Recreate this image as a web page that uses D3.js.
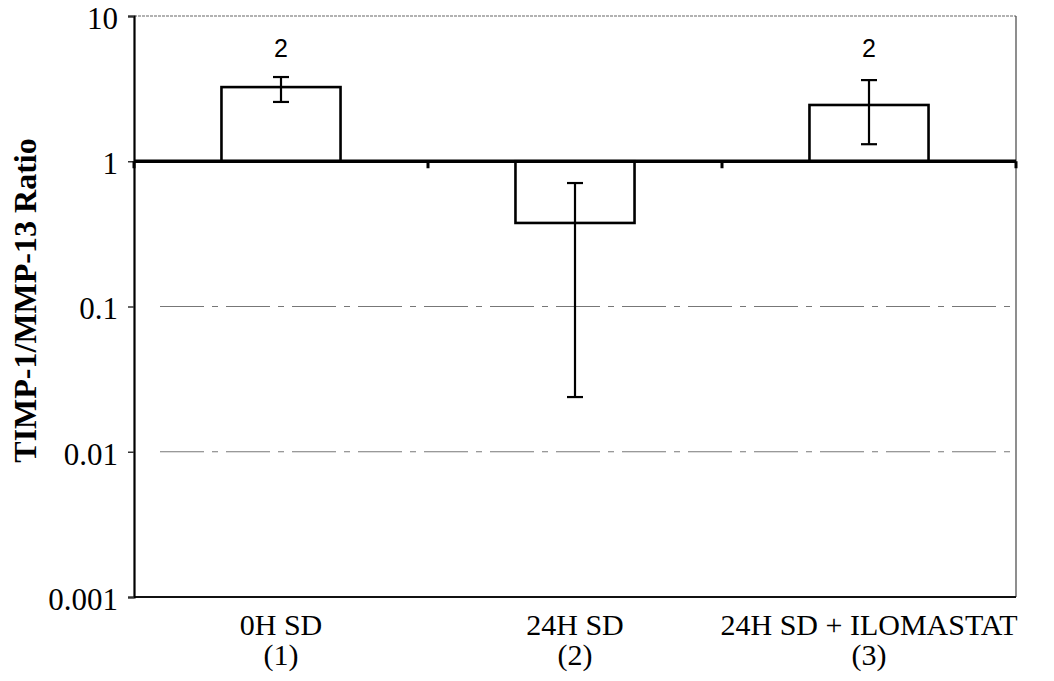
<!DOCTYPE html>
<html>
<head>
<meta charset="utf-8">
<script src="https://cdn.jsdelivr.net/npm/d3@7"></script>
<style>
  body { margin: 0; background: #fff; }
  svg { display: block; }
</style>
</head>
<body>
<div id="chart"></div>
<script>
// values (log axis, bars hang from 1)
const categories = ["0H SD", "24H SD", "24H SD + ILOMASTAT"];
const catNumbers = ["(1)", "(2)", "(3)"];
const ratios = [3.24, 0.376, 2.44];
const errHigh = [3.8, 0.708, 3.62];
const errLow = [2.56, 0.0238, 1.31];
const nLabels = ["2", "", "2"];
const yTicks = [0.001, 0.01, 0.1, 1, 10];
const gridValues = [0.01, 0.1];

const SERIF = "'Liberation Serif', 'Times New Roman', Times, serif";
const W = 1054, H = 681;
const m = {left: 134, top: 16, right: 38, bottom: 84};

const svg = d3.select("#chart").append("svg")
  .attr("width", W).attr("height", H);

const x = d3.scaleBand().domain(categories)
  .range([m.left, W - m.right]).padding(0);
const y = d3.scaleLog().domain([0.001, 10])
  .range([H - m.bottom, m.top]);

const barW = x.bandwidth() * 0.405;
const cx = c => x(c) + x.bandwidth() / 2;

// frame
svg.append("line")
  .attr("x1", m.left).attr("x2", W - m.right)
  .attr("y1", y(10)).attr("y2", y(10))
  .attr("stroke", "#666").attr("stroke-width", 1.2)
  .attr("stroke-dasharray", "3 1");
svg.append("line")
  .attr("x1", W - m.right).attr("x2", W - m.right)
  .attr("y1", y(10)).attr("y2", y(0.001))
  .attr("stroke", "#444").attr("stroke-width", 1.2);
svg.append("line")
  .attr("x1", m.left).attr("x2", W - m.right)
  .attr("y1", y(0.001)).attr("y2", y(0.001))
  .attr("stroke", "#111").attr("stroke-width", 1.8);

// gridlines
svg.append("g").selectAll("line").data(gridValues).join("line")
  .attr("x1", m.left + 26).attr("x2", W - m.right)
  .attr("y1", d => y(d)).attr("y2", d => y(d))
  .attr("stroke", "#777").attr("stroke-width", 1)
  .attr("stroke-dasharray", "44 8 6 8");

// y axis
const yAxis = svg.append("g")
  .attr("transform", `translate(${m.left},0)`)
  .call(d3.axisLeft(y).tickValues(yTicks).tickFormat(d => String(d)).tickSize(6).tickPadding(10));
yAxis.attr("font-family", SERIF);
yAxis.select(".domain").attr("stroke", "#000").attr("stroke-width", 2.2);
yAxis.selectAll(".tick line").attr("stroke", "#333").attr("stroke-width", 1.5);
yAxis.selectAll(".tick text")
  .attr("font-family", SERIF)
  .attr("font-size", 31).attr("fill", "#000")
  .attr("dy", "0.4em");

// axis title
svg.append("text")
  .attr("font-family", SERIF)
  .attr("transform", `translate(36,${(y(10) + y(0.001)) / 2 - 6}) rotate(-90)`)
  .attr("text-anchor", "middle")
  .attr("font-size", 32).attr("font-weight", "bold")
  .text("TIMP-1/MMP-13 Ratio");

// bars
svg.append("g").selectAll("rect").data(categories).join("rect")
  .attr("x", c => cx(c) - barW / 2)
  .attr("width", barW)
  .attr("y", (c, i) => Math.min(y(ratios[i]), y(1)))
  .attr("height", (c, i) => Math.abs(y(ratios[i]) - y(1)))
  .attr("fill", "#fff").attr("stroke", "#000").attr("stroke-width", 2.6);

// error bars
const err = svg.append("g").attr("stroke", "#000").attr("stroke-width", 2.2);
categories.forEach((c, i) => {
  const px = cx(c);
  err.append("line").attr("x1", px).attr("x2", px)
    .attr("y1", y(errHigh[i])).attr("y2", y(errLow[i]));
  [errHigh[i], errLow[i]].forEach(v => {
    err.append("line").attr("x1", px - 8).attr("x2", px + 8)
      .attr("y1", y(v)).attr("y2", y(v));
  });
});

// n labels
svg.append("g").selectAll("text").data(categories).join("text")
  .attr("x", c => cx(c))
  .attr("y", 57)
  .attr("text-anchor", "middle")
  .attr("font-family", "'Liberation Sans', Arial, sans-serif")
  .attr("font-size", 25)
  .text((c, i) => nLabels[i]);

// baseline axis at 1 with ticks at category boundaries
svg.append("line")
  .attr("x1", m.left).attr("x2", W - m.right)
  .attr("y1", y(1)).attr("y2", y(1))
  .attr("stroke", "#000").attr("stroke-width", 3.4);
const bounds = categories.map(c => x(c)).concat([x(categories[categories.length - 1]) + x.bandwidth()]);
svg.append("g").selectAll("line").data(bounds).join("line")
  .attr("x1", d => d).attr("x2", d => d)
  .attr("y1", y(1)).attr("y2", y(1) + 7)
  .attr("stroke", "#000").attr("stroke-width", 3);

// category labels
const lab = svg.append("g").attr("font-family", SERIF)
  .attr("font-size", 30).attr("text-anchor", "middle");
categories.forEach((c, i) => {
  const t = lab.append("text").attr("x", cx(c)).attr("y", 635);
  t.append("tspan").attr("x", cx(c)).text(c);
  t.append("tspan").attr("x", cx(c)).attr("dy", 30).text(catNumbers[i]);
});
</script>
</body>
</html>
